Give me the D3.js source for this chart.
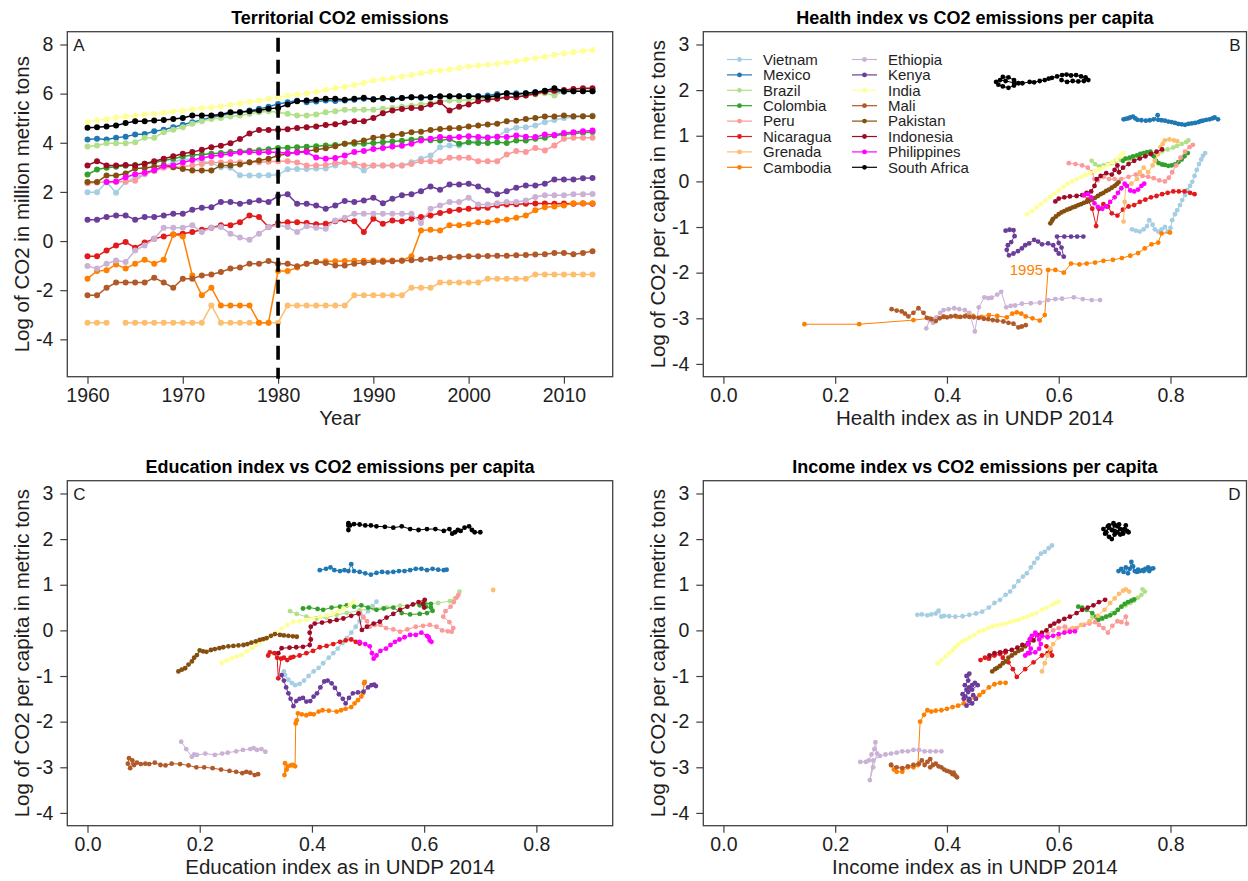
<!DOCTYPE html>
<html>
<head>
<meta charset="utf-8">
<title>CO2 emissions and human development</title>
<script src="https://cdn.jsdelivr.net/npm/d3@7/dist/d3.min.js"></script>
<style>
  html, body { margin: 0; padding: 0; background: #fff; }
  svg { display: block; }
</style>
</head>
<body>
<svg id="chart" width="1248" height="881"></svg>
<script>
// ---------- countries and colours ----------
const countries = ["Vietnam","Mexico","Brazil","Colombia","Peru","Nicaragua","Grenada","Cambodia",
                   "Ethiopia","Kenya","India","Mali","Pakistan","Indonesia","Philippines","South Africa"];
const palette = ["#a6cee3","#1f78b4","#b2df8a","#33a02c","#fb9a99","#e31a1c","#fdbf6f","#ff7f00",
                 "#cab2d6","#6a3d9a","#ffff99","#b15928","#85500f","#9e0b26","#ff00ff","#000000"];

// ---------- panel A: log of territorial CO2 (million metric tons), 1960-2013 ----------
const firstYear = 1960, lastYear = 2013;
const co2Vietnam = [1.99,1.99,2.40,1.97,2.40,2.60,2.72,2.85,3.05,3.20, 3.35,3.30,3.25,3.18,3.00,2.98,2.68,2.67,2.67,2.68,
  2.70,2.92,2.93,2.93,2.95,2.95,3.08,3.21,3.08,2.87, 3.08,3.08,3.08,3.08,3.21,3.35,3.48,3.82,3.89,3.89,
  4.02,4.09,4.23,4.25,4.50,4.61,4.63,4.70,4.84,4.93, 5.01,5.04,5.07,5.11];
const co2Mexico = [4.13,4.16,4.13,4.20,4.25,4.34,4.36,4.47,4.53,4.63, 4.73,4.84,4.93,5.04,5.11,5.18,5.24,5.31,5.38,5.47,
  5.58,5.65,5.72,5.65,5.68,5.72,5.70,5.72,5.75,5.79, 5.78,5.80,5.78,5.82,5.85,5.82,5.84,5.87,5.88,5.88,
  5.90,5.90,5.92,5.98,6.00,6.02,6.02,6.06,6.10,6.08, 6.08,6.10,6.12,6.10];
const co2Brazil = [3.85,3.89,3.98,3.98,3.98,4.02,4.20,4.20,4.43,4.53, 4.63,4.77,4.88,4.97,5.01,5.07,5.11,5.18,5.24,5.28,
  5.24,5.18,5.11,5.11,5.15,5.24,5.28,5.34,5.34,5.34, 5.34,5.38,5.42,5.47,5.51,5.56,5.61,5.69,5.72,5.72,
  5.75,5.79,5.79,5.85,5.85,5.88,5.92,5.96,6.02,5.92, 6.10,6.12,6.15,6.15];
const co2Colombia = [2.71,2.91,2.98,3.02,3.06,3.10,3.15,3.20,3.28,3.35, 3.44,3.50,3.52,3.55,3.58,3.62,3.64,3.68,3.70,3.74,
  3.79,3.80,3.82,3.84,3.86,3.89,3.91,3.96,3.96,3.96, 3.99,4.02,4.05,4.08,4.12,4.16,4.10,4.09,4.15,3.96,
  4.02,3.99,3.99,4.02,3.99,4.09,4.09,4.16,4.20,4.30, 4.34,4.38,4.41,4.44];
const co2Peru = [2.35,2.38,2.40,2.40,2.42,2.45,2.74,2.85,2.98,3.00, 3.02,3.08,3.14,3.20,3.20,3.21,3.21,3.20,3.21,3.23,
  3.25,3.25,3.20,3.08,3.08,3.10,3.18,3.21,3.14,3.08, 3.08,3.08,3.08,3.08,3.14,3.25,3.25,3.25,3.39,3.39,
  3.39,3.25,3.25,3.25,3.52,3.66,3.62,3.79,3.69,3.89, 4.16,4.20,4.20,4.20];
const co2Nicaragua = [-0.62,-0.62,-0.38,-0.18,-0.04,-0.27,-0.06,0.09,0.19,0.27, 0.30,0.37,0.46,0.54,0.64,0.64,0.77,1.04,0.98,0.57,
  0.73,0.77,0.77,0.73,0.68,0.70,0.81,0.87,0.81,0.37, 0.91,0.70,0.84,0.81,0.91,0.98,1.04,1.14,1.22,1.27,
  1.31,1.36,1.36,1.45,1.49,1.50,1.52,1.53,1.53,1.52, 1.53,1.52,1.53,1.52];
const co2Grenada = [-3.32,-3.32,-3.32,null,-3.32,-3.32,-3.32,-3.32,-3.32,-3.32, -3.32,-3.32,-3.32,-2.62,-3.32,-3.32,-3.32,-3.32,-3.32,-3.32,
  -3.32,-2.62,-2.62,-2.62,-2.62,-2.62,-2.62,-2.62,-2.21,-2.21, -2.21,-2.21,-2.21,-2.21,-1.90,-1.90,-1.90,-1.69,-1.69,-1.69,
  -1.69,-1.69,-1.53,-1.53,-1.53,-1.53,-1.53,-1.36,-1.36,-1.36, -1.36,-1.36,-1.36,-1.36];
const co2Cambodia = [-1.53,-1.22,-1.19,-0.95,-1.12,-0.92,-0.76,-0.92,-0.76,0.27, 0.19,-1.40,-2.21,-1.90,-2.62,-2.62,-2.62,-2.62,-3.32,-3.32,
  -1.22,-1.22,-1.08,-0.92,-0.85,-0.82,-0.82,-0.81,-0.80,-0.80, -0.79,-0.79,-0.79,-0.79,-0.62,0.43,0.46,0.43,0.64,0.64,
  0.68,0.77,0.77,0.84,0.88,0.95,1.04,1.25,1.38,1.41, 1.45,1.54,1.54,1.54];
const co2Ethiopia = [-1.02,-1.12,-0.92,-0.79,-0.85,-0.38,-0.18,0.09,0.54,0.54, 0.54,0.64,0.37,0.54,0.57,0.30,0.14,0.05,0.30,0.57,
  0.64,0.57,0.37,0.60,0.54,0.50,0.84,0.95,1.11,1.11, 1.11,1.11,1.11,1.11,1.11,0.73,1.31,1.45,1.59,1.59,
  1.76,1.49,1.49,1.54,1.59,1.59,1.65,1.79,1.86,1.86, 1.86,1.90,1.90,1.92];
const co2Kenya = [0.87,0.87,0.98,1.04,1.04,0.87,0.98,0.98,1.04,1.11, 1.11,1.27,1.36,1.38,1.59,1.59,1.52,1.59,1.65,1.59,
  1.83,1.90,1.52,1.52,1.45,1.31,1.45,1.63,1.59,1.65, 1.76,1.54,1.72,1.86,1.90,2.03,2.22,2.09,2.30,2.30,
  2.33,2.22,2.06,1.90,2.03,2.17,2.26,2.26,2.33,2.51, 2.51,2.51,2.56,2.57];
const co2India = [4.84,4.92,4.97,5.03,5.07,5.10,5.15,5.18,5.22,5.27, 5.31,5.36,5.41,5.44,5.49,5.55,5.61,5.67,5.72,5.79,
  5.85,5.91,5.96,6.02,6.08,6.16,6.22,6.28,6.35,6.44, 6.53,6.58,6.64,6.70,6.76,6.83,6.89,6.94,6.98,7.04,
  7.10,7.14,7.18,7.22,7.27,7.32,7.38,7.44,7.50,7.58, 7.63,7.68,7.73,7.78];
const co2Mali = [-2.21,-2.21,-1.90,-1.69,-1.69,-1.69,-1.69,-1.49,-1.69,-1.90, -1.53,-1.53,-1.40,-1.36,-1.26,-1.12,-1.08,-0.92,-0.92,-0.81,
  -0.92,-0.92,-1.03,-0.92,-0.85,-0.89,-0.99,-0.99,-0.92,-0.88, -0.85,-0.84,-0.82,-0.80,-0.78,-0.75,-0.72,-0.68,-0.66,-0.64,
  -0.62,-0.62,-0.61,-0.60,-0.60,-0.58,-0.57,-0.55,-0.54,-0.49, -0.49,-0.54,-0.49,-0.41];
const co2Pakistan = [2.40,2.40,2.67,2.67,2.75,2.95,2.97,3.02,3.08,3.00, 2.93,2.87,2.87,2.87,3.08,3.08,3.12,3.21,3.28,3.35,
  3.48,3.55,3.62,3.66,3.72,3.78,3.86,3.96,4.02,4.09, 4.20,4.25,4.30,4.36,4.43,4.45,4.52,4.56,4.59,4.60,
  4.66,4.70,4.74,4.77,4.88,4.90,4.97,5.01,5.07,5.07, 5.11,5.08,5.08,5.08];
const co2Indonesia = [3.08,3.25,3.08,3.08,3.10,3.08,3.15,3.25,3.35,3.45, 3.55,3.62,3.72,3.82,3.88,3.98,4.15,4.38,4.52,4.52,
  4.53,4.55,4.60,4.63,4.66,4.72,4.75,4.81,4.88,4.88, 5.01,5.20,5.31,5.37,5.42,5.42,5.56,5.65,5.31,5.47,
  5.56,5.69,5.75,5.79,5.85,5.85,5.92,5.99,6.08,6.12, 6.15,6.19,6.22,6.22];
const co2Philippines = [null,null,2.40,2.42,2.60,2.72,2.78,2.88,3.05,3.08, 3.20,3.30,3.38,3.45,3.50,3.55,3.60,3.62,3.60,3.62,
  3.60,3.58,3.60,3.62,3.40,3.35,3.38,3.48,3.62,3.66, 3.75,3.79,3.85,3.88,3.96,4.09,4.16,4.23,4.20,4.23,
  4.27,4.23,4.20,4.25,4.23,4.30,4.25,4.23,4.34,4.32, 4.40,4.43,4.47,4.50];
const co2SouthAfrica = [4.61,4.63,4.66,4.70,4.80,4.88,4.88,4.91,4.93,4.97, 5.01,5.11,5.11,5.11,5.15,5.24,5.24,5.28,5.31,5.38,
  5.42,5.56,5.69,5.72,5.75,5.79,5.79,5.75,5.79,5.83, 5.76,5.82,5.76,5.82,5.85,5.85,5.85,5.89,5.89,5.89,
  5.89,5.88,5.85,5.92,6.02,5.96,6.02,6.06,6.12,6.22, 6.10,6.10,6.10,6.10];
const markerYear = 1980;

// ---------- panel B: [health index, log CO2 per capita] ----------
const healthVietnam = [[0.731,-1.05],[0.738,-1.08],[0.745,-1.1],[0.752,-1.05],[0.758,-0.98],[0.762,-0.85],[0.768,-0.95],[0.772,-1.05],[0.778,-1.1],[0.784,-1.05],[0.79,-1.0],[0.795,-1.1],[0.8,-1.02],[0.803,-0.85],[0.808,-0.72],[0.812,-0.63],[0.817,-0.52],[0.821,-0.41],[0.826,-0.3],[0.83,-0.19],[0.835,-0.1],[0.839,-0.01],[0.843,0.12],[0.847,0.25],[0.851,0.38],[0.855,0.48],[0.858,0.56],[0.862,0.62]];
const healthMexico = [[0.716,1.36],[0.72,1.37],[0.724,1.38],[0.728,1.4],[0.733,1.42],[0.737,1.38],[0.741,1.35],[0.748,1.34],[0.756,1.33],[0.763,1.34],[0.77,1.36],[0.777,1.45],[0.778,1.35],[0.784,1.34],[0.79,1.33],[0.796,1.31],[0.802,1.3],[0.808,1.28],[0.814,1.26],[0.82,1.25],[0.826,1.24],[0.832,1.26],[0.838,1.27],[0.844,1.28],[0.85,1.3],[0.854,1.32],[0.858,1.33],[0.864,1.35],[0.87,1.36],[0.875,1.38],[0.879,1.4],[0.885,1.36]];
const healthBrazil = [[0.659,0.45],[0.665,0.38],[0.672,0.33],[0.68,0.35],[0.688,0.38],[0.695,0.4],[0.702,0.45],[0.71,0.48],[0.718,0.5],[0.726,0.48],[0.735,0.5],[0.745,0.55],[0.755,0.6],[0.765,0.62],[0.775,0.62],[0.785,0.66],[0.795,0.7],[0.805,0.74],[0.812,0.78],[0.82,0.82],[0.828,0.86],[0.832,0.9]];
const healthColombia = [[0.715,0.45],[0.72,0.5],[0.727,0.52],[0.733,0.55],[0.74,0.57],[0.746,0.6],[0.752,0.62],[0.758,0.64],[0.764,0.65],[0.77,0.55],[0.774,0.45],[0.779,0.4],[0.785,0.37],[0.79,0.36],[0.796,0.34],[0.802,0.35],[0.808,0.37],[0.814,0.42],[0.82,0.48],[0.825,0.55],[0.831,0.62]];
const healthPeru = [[0.618,0.4],[0.63,0.38],[0.642,0.35],[0.652,0.3],[0.66,0.2],[0.664,0.05],[0.67,0.02],[0.68,0.1],[0.69,0.05],[0.7,0.05],[0.712,0.05],[0.725,0.1],[0.738,0.15],[0.75,0.12],[0.76,0.1],[0.77,0.07],[0.78,0.02],[0.79,0.0],[0.797,0.08],[0.803,0.2],[0.81,0.35],[0.818,0.52],[0.826,0.65],[0.834,0.75],[0.84,0.8]];
const healthNicaragua = [[0.645,-0.3],[0.652,-0.4],[0.66,-0.6],[0.667,-0.98],[0.672,-0.6],[0.68,-0.5],[0.688,-0.55],[0.695,-0.7],[0.705,-0.75],[0.715,-0.62],[0.725,-0.55],[0.735,-0.52],[0.745,-0.45],[0.755,-0.4],[0.765,-0.35],[0.775,-0.32],[0.785,-0.28],[0.795,-0.25],[0.805,-0.22],[0.815,-0.22],[0.825,-0.22],[0.835,-0.25],[0.843,-0.28]];
const healthGrenada = [[0.716,-0.88],[0.718,-0.45],[0.72,-0.1],[0.73,-0.05],[0.74,0.05],[0.745,0.2],[0.752,0.3],[0.76,0.2],[0.768,0.35],[0.772,0.45],[0.778,0.6],[0.782,0.75],[0.786,0.82],[0.79,0.9],[0.798,0.92],[0.806,0.9],[0.812,0.88]];
const healthCambodia = [[0.145,-3.13],[0.243,-3.13],[0.34,-3.04],[0.369,-3.0],[0.394,-2.96],[0.419,-2.97],[0.435,-2.93],[0.447,-2.95],[0.462,-2.97],[0.475,-2.93],[0.49,-2.95],[0.507,-2.98],[0.517,-2.9],[0.525,-2.87],[0.533,-2.9],[0.541,-2.96],[0.553,-3.0],[0.566,-3.05],[0.575,-2.93],[0.581,-1.94],[0.594,-1.94],[0.609,-2.0],[0.622,-1.8],[0.637,-1.82],[0.65,-1.8],[0.665,-1.78],[0.68,-1.74],[0.697,-1.72],[0.713,-1.68],[0.728,-1.63],[0.742,-1.57],[0.754,-1.47],[0.766,-1.38],[0.778,-1.34],[0.784,-1.14],[0.799,-1.12]];
const healthEthiopia = [[0.363,-3.22],[0.369,-3.04],[0.375,-3.1],[0.381,-2.98],[0.388,-2.88],[0.394,-2.82],[0.403,-2.8],[0.413,-2.78],[0.422,-2.8],[0.432,-2.82],[0.44,-2.88],[0.45,-3.29],[0.457,-2.76],[0.467,-2.54],[0.474,-2.56],[0.48,-2.55],[0.49,-2.48],[0.497,-2.42],[0.506,-2.76],[0.514,-2.73],[0.522,-2.72],[0.534,-2.68],[0.55,-2.67],[0.566,-2.66],[0.581,-2.6],[0.594,-2.58],[0.606,-2.57],[0.627,-2.54],[0.643,-2.58],[0.659,-2.6],[0.674,-2.6]];
const healthKenya = [[0.505,-1.08],[0.512,-1.06],[0.519,-1.07],[0.521,-1.2],[0.515,-1.33],[0.509,-1.4],[0.507,-1.5],[0.511,-1.62],[0.519,-1.58],[0.527,-1.53],[0.534,-1.47],[0.54,-1.4],[0.547,-1.36],[0.556,-1.28],[0.563,-1.32],[0.57,-1.38],[0.581,-1.36],[0.59,-1.4],[0.595,-1.5],[0.6,-1.58],[0.609,-1.65],[0.605,-1.45],[0.6,-1.35],[0.597,-1.21],[0.61,-1.21],[0.622,-1.21],[0.633,-1.21],[0.644,-1.21]];
const healthIndia = [[0.543,-0.72],[0.552,-0.65],[0.56,-0.57],[0.568,-0.5],[0.576,-0.42],[0.584,-0.34],[0.592,-0.27],[0.6,-0.2],[0.608,-0.12],[0.616,-0.05],[0.624,0.0],[0.632,0.05],[0.64,0.1],[0.648,0.14],[0.656,0.18],[0.664,0.22],[0.672,0.26],[0.68,0.3],[0.688,0.36],[0.696,0.42],[0.704,0.48],[0.71,0.55],[0.716,0.62]];
const healthMali = [[0.301,-2.8],[0.31,-2.83],[0.319,-2.85],[0.325,-2.9],[0.331,-2.96],[0.34,-2.88],[0.349,-2.78],[0.358,-2.88],[0.364,-2.99],[0.372,-3.02],[0.38,-3.06],[0.387,-3.0],[0.394,-2.97],[0.4,-2.98],[0.407,-2.96],[0.415,-2.95],[0.424,-2.97],[0.432,-2.96],[0.44,-2.97],[0.448,-2.98],[0.457,-2.99],[0.466,-3.01],[0.474,-3.02],[0.482,-3.04],[0.49,-3.05],[0.501,-3.07],[0.51,-3.1],[0.519,-3.12],[0.528,-3.2],[0.534,-3.18],[0.541,-3.15]];
const healthPakistan = [[0.585,-0.92],[0.588,-0.86],[0.59,-0.82],[0.595,-0.77],[0.6,-0.72],[0.605,-0.68],[0.61,-0.65],[0.615,-0.62],[0.62,-0.6],[0.625,-0.57],[0.63,-0.55],[0.635,-0.52],[0.64,-0.5],[0.645,-0.47],[0.65,-0.45],[0.655,-0.42],[0.66,-0.4],[0.665,-0.36],[0.67,-0.32],[0.675,-0.28],[0.68,-0.25],[0.685,-0.21],[0.69,-0.18],[0.695,-0.14],[0.7,-0.1],[0.704,-0.06],[0.707,-0.02]];
const healthIndonesia = [[0.594,-0.44],[0.6,-0.38],[0.61,-0.35],[0.62,-0.33],[0.632,-0.32],[0.642,-0.3],[0.65,-0.25],[0.658,-0.22],[0.664,-0.1],[0.668,0.05],[0.675,0.12],[0.685,0.18],[0.695,0.15],[0.7,0.25],[0.705,0.35],[0.708,0.2],[0.715,0.3],[0.725,0.38],[0.735,0.45],[0.745,0.5],[0.755,0.55],[0.765,0.6],[0.775,0.65],[0.785,0.7]];
const healthPhilippines = [[0.645,-0.3],[0.652,-0.28],[0.658,-0.35],[0.664,-0.48],[0.67,-0.56],[0.678,-0.6],[0.685,-0.55],[0.692,-0.45],[0.7,-0.35],[0.706,-0.25],[0.712,-0.15],[0.718,-0.05],[0.722,-0.1],[0.728,-0.2],[0.735,-0.22],[0.742,-0.18],[0.748,-0.1],[0.753,-0.05]];
const healthSouthAfrica = [[0.488,2.18],[0.492,2.12],[0.5,2.08],[0.51,2.05],[0.52,2.1],[0.528,2.15],[0.52,2.22],[0.51,2.28],[0.5,2.29],[0.495,2.22],[0.505,2.2],[0.52,2.16],[0.535,2.15],[0.548,2.18],[0.556,2.17],[0.566,2.2],[0.575,2.22],[0.582,2.25],[0.588,2.27],[0.597,2.3],[0.606,2.33],[0.614,2.34],[0.622,2.32],[0.631,2.33],[0.64,2.3],[0.648,2.28],[0.653,2.22],[0.645,2.2],[0.635,2.19],[0.625,2.2],[0.615,2.18],[0.605,2.22]];

// ---------- panel C: [education index, log CO2 per capita] ----------
const educationVietnam = [[0.35,-0.9],[0.352,-0.98],[0.358,-1.08],[0.364,-1.15],[0.37,-1.2],[0.378,-1.17],[0.386,-1.1],[0.394,-1.0],[0.403,-0.9],[0.412,-0.82],[0.42,-0.72],[0.43,-0.6],[0.438,-0.5],[0.446,-0.4],[0.454,-0.28],[0.462,-0.17],[0.47,-0.05],[0.478,0.08],[0.485,0.2],[0.491,0.3],[0.5,0.42],[0.508,0.53],[0.515,0.63]];
const educationMexico = [[0.414,1.32],[0.425,1.35],[0.433,1.38],[0.44,1.32],[0.45,1.3],[0.458,1.32],[0.465,1.3],[0.47,1.45],[0.475,1.3],[0.485,1.28],[0.495,1.25],[0.505,1.22],[0.515,1.26],[0.525,1.28],[0.535,1.27],[0.545,1.28],[0.555,1.3],[0.565,1.3],[0.575,1.32],[0.585,1.35],[0.595,1.35],[0.605,1.32],[0.615,1.35],[0.625,1.33],[0.635,1.32],[0.64,1.33]];
const educationBrazil = [[0.361,0.42],[0.373,0.36],[0.39,0.3],[0.408,0.26],[0.426,0.28],[0.444,0.34],[0.462,0.38],[0.485,0.44],[0.509,0.48],[0.533,0.5],[0.557,0.54],[0.58,0.56],[0.604,0.58],[0.625,0.6],[0.646,0.64],[0.655,0.7],[0.663,0.85]];
const educationColombia = [[0.384,0.48],[0.395,0.5],[0.41,0.47],[0.42,0.45],[0.435,0.5],[0.45,0.52],[0.462,0.55],[0.475,0.52],[0.488,0.55],[0.5,0.5],[0.515,0.45],[0.528,0.48],[0.545,0.5],[0.56,0.38],[0.575,0.35],[0.592,0.36],[0.605,0.38],[0.615,0.43],[0.612,0.5],[0.603,0.52],[0.592,0.55],[0.6,0.6],[0.612,0.58]];
const educationPeru = [[0.486,0.37],[0.492,0.28],[0.498,0.2],[0.503,0.08],[0.512,0.12],[0.522,0.12],[0.532,0.05],[0.545,0.02],[0.557,-0.03],[0.57,0.02],[0.585,0.08],[0.598,0.1],[0.61,0.12],[0.622,0.08],[0.632,0.0],[0.642,-0.02],[0.649,-0.03],[0.652,0.05],[0.645,0.18],[0.634,0.3],[0.638,0.42],[0.647,0.52],[0.653,0.62],[0.658,0.72],[0.661,0.78]];
const educationNicaragua = [[0.322,-0.55],[0.325,-0.48],[0.333,-0.5],[0.338,-0.6],[0.34,-1.05],[0.345,-0.62],[0.35,-0.6],[0.356,-0.65],[0.362,-0.6],[0.367,-0.58],[0.378,-0.55],[0.39,-0.5],[0.402,-0.45],[0.414,-0.37],[0.426,-0.34],[0.438,-0.3],[0.45,-0.25],[0.46,-0.22],[0.47,-0.2],[0.478,-0.25],[0.485,-0.29]];
const educationGrenada = [[0.723,0.885]];
const educationCambodia = [[0.352,-2.91],[0.351,-3.17],[0.355,-3.05],[0.357,-2.98],[0.362,-2.96],[0.366,-2.95],[0.37,-2.98],[0.371,-2.04],[0.373,-1.97],[0.375,-1.82],[0.382,-1.84],[0.39,-1.86],[0.397,-1.83],[0.403,-1.84],[0.412,-1.78],[0.419,-1.75],[0.43,-1.76],[0.444,-1.78],[0.452,-1.75],[0.46,-1.72],[0.47,-1.68],[0.476,-1.6],[0.482,-1.53],[0.488,-1.45],[0.491,-1.38],[0.493,-1.16],[0.494,-1.13]];
const educationEthiopia = [[0.167,-2.44],[0.176,-2.6],[0.186,-2.77],[0.19,-2.72],[0.195,-2.73],[0.21,-2.7],[0.227,-2.73],[0.24,-2.7],[0.25,-2.68],[0.265,-2.65],[0.277,-2.62],[0.29,-2.6],[0.296,-2.58],[0.302,-2.62],[0.31,-2.6],[0.317,-2.66]];
const educationKenya = [[0.346,-0.98],[0.35,-1.1],[0.354,-1.25],[0.358,-1.38],[0.362,-1.5],[0.367,-1.66],[0.372,-1.55],[0.378,-1.5],[0.384,-1.48],[0.39,-1.56],[0.397,-1.55],[0.403,-1.45],[0.409,-1.38],[0.415,-1.25],[0.422,-1.12],[0.428,-1.1],[0.435,-1.16],[0.441,-1.26],[0.448,-1.4],[0.455,-1.5],[0.46,-1.6],[0.466,-1.48],[0.473,-1.38],[0.482,-1.36],[0.492,-1.34],[0.5,-1.25],[0.506,-1.2],[0.511,-1.19],[0.514,-1.22]];
const educationIndia = [[0.239,-0.72],[0.248,-0.66],[0.257,-0.61],[0.266,-0.57],[0.275,-0.54],[0.284,-0.46],[0.293,-0.39],[0.3,-0.32],[0.307,-0.25],[0.316,-0.2],[0.325,-0.14],[0.335,-0.05],[0.346,0.04],[0.356,0.12],[0.367,0.19],[0.378,0.2],[0.39,0.23],[0.402,0.27],[0.414,0.3],[0.426,0.33],[0.438,0.37],[0.447,0.42],[0.456,0.48],[0.468,0.56],[0.474,0.63]];
const educationMali = [[0.074,-2.8],[0.072,-2.92],[0.076,-3.02],[0.08,-2.85],[0.083,-2.95],[0.088,-2.9],[0.095,-2.93],[0.103,-2.92],[0.11,-2.93],[0.12,-2.9],[0.13,-2.95],[0.139,-2.96],[0.15,-2.92],[0.165,-2.93],[0.18,-2.96],[0.194,-3.0],[0.208,-3.0],[0.223,-3.02],[0.238,-3.05],[0.253,-3.08],[0.265,-3.1],[0.276,-3.13],[0.283,-3.1],[0.29,-3.12],[0.298,-3.17],[0.304,-3.15]];
const educationPakistan = [[0.162,-0.9],[0.168,-0.86],[0.174,-0.83],[0.18,-0.75],[0.186,-0.68],[0.19,-0.6],[0.195,-0.54],[0.2,-0.44],[0.206,-0.46],[0.212,-0.47],[0.22,-0.43],[0.227,-0.41],[0.235,-0.39],[0.242,-0.37],[0.251,-0.35],[0.26,-0.34],[0.269,-0.33],[0.278,-0.32],[0.285,-0.3],[0.292,-0.27],[0.3,-0.24],[0.307,-0.21],[0.313,-0.19],[0.319,-0.17],[0.327,-0.12],[0.334,-0.08],[0.343,-0.1],[0.35,-0.11],[0.358,-0.12],[0.366,-0.13],[0.373,-0.14]];
const educationIndonesia = [[0.34,-0.5],[0.346,-0.39],[0.36,-0.38],[0.372,-0.37],[0.384,-0.36],[0.396,-0.32],[0.398,-0.2],[0.396,-0.05],[0.398,0.08],[0.405,0.15],[0.418,0.17],[0.432,0.2],[0.444,0.23],[0.456,0.26],[0.47,0.32],[0.483,0.37],[0.489,0.01],[0.498,0.08],[0.51,0.15],[0.521,0.19],[0.533,0.28],[0.545,0.36],[0.557,0.45],[0.57,0.52],[0.58,0.57],[0.59,0.62],[0.601,0.67],[0.598,0.58],[0.6,0.5]];
const educationPhilippines = [[0.485,-0.25],[0.495,-0.3],[0.503,-0.35],[0.507,-0.5],[0.51,-0.62],[0.515,-0.55],[0.522,-0.45],[0.532,-0.4],[0.54,-0.32],[0.548,-0.25],[0.556,-0.2],[0.565,-0.15],[0.575,-0.1],[0.585,-0.1],[0.595,-0.05],[0.605,-0.12],[0.61,-0.22],[0.613,-0.25],[0.608,-0.15]];
const educationSouthAfrica = [[0.465,2.3],[0.465,2.2],[0.465,2.35],[0.468,2.3],[0.475,2.33],[0.485,2.32],[0.495,2.3],[0.505,2.3],[0.515,2.28],[0.53,2.27],[0.545,2.25],[0.56,2.28],[0.575,2.22],[0.59,2.2],[0.605,2.22],[0.62,2.22],[0.635,2.18],[0.645,2.22],[0.65,2.12],[0.655,2.15],[0.66,2.2],[0.665,2.18],[0.672,2.25],[0.68,2.28],[0.685,2.2],[0.69,2.15],[0.7,2.15]];

// ---------- panel D: [income index, log CO2 per capita] ----------
const incomeVietnam = [[0.347,0.34],[0.355,0.35],[0.365,0.33],[0.372,0.35],[0.38,0.37],[0.385,0.43],[0.39,0.3],[0.395,0.32],[0.404,0.31],[0.415,0.3],[0.428,0.31],[0.44,0.34],[0.452,0.37],[0.463,0.41],[0.475,0.5],[0.485,0.6],[0.495,0.67],[0.505,0.78],[0.513,0.85],[0.52,0.96],[0.528,1.08],[0.536,1.18],[0.543,1.25],[0.55,1.38],[0.556,1.48],[0.562,1.58],[0.568,1.68],[0.575,1.72],[0.582,1.8],[0.588,1.86]];
const incomeMexico = [[0.707,1.3],[0.712,1.35],[0.716,1.28],[0.72,1.38],[0.724,1.25],[0.727,1.35],[0.73,1.5],[0.733,1.4],[0.736,1.3],[0.74,1.28],[0.745,1.3],[0.75,1.32],[0.755,1.35],[0.76,1.38],[0.765,1.35],[0.769,1.36],[0.762,1.3],[0.752,1.3],[0.742,1.33]];
const incomeBrazil = [[0.66,0.3],[0.668,0.26],[0.677,0.28],[0.685,0.3],[0.695,0.38],[0.705,0.45],[0.713,0.52],[0.72,0.55],[0.728,0.6],[0.735,0.65],[0.742,0.72],[0.748,0.78],[0.754,0.85],[0.75,0.9]];
const incomeColombia = [[0.635,0.52],[0.642,0.5],[0.65,0.45],[0.66,0.38],[0.667,0.3],[0.671,0.23],[0.678,0.26],[0.685,0.3],[0.692,0.33],[0.7,0.38],[0.706,0.45],[0.712,0.52],[0.718,0.58],[0.724,0.62],[0.73,0.65],[0.735,0.68]];
const incomePeru = [[0.57,-0.15],[0.58,-0.08],[0.59,0.0],[0.6,0.05],[0.611,0.08],[0.622,0.02],[0.632,0.05],[0.645,0.12],[0.655,0.15],[0.665,0.18],[0.672,0.12],[0.68,0.05],[0.688,-0.05],[0.696,0.1],[0.705,0.2],[0.712,0.18],[0.72,0.3],[0.722,0.15]];
const incomeNicaragua = [[0.46,-0.65],[0.468,-0.6],[0.475,-0.62],[0.485,-0.55],[0.495,-0.52],[0.505,-0.48],[0.5,-0.6],[0.51,-0.7],[0.518,-0.85],[0.525,-1.02],[0.54,-0.85],[0.555,-0.7],[0.57,-0.55],[0.58,-0.5],[0.588,-0.55],[0.585,-0.45],[0.578,-0.35]];
const incomeGrenada = [[0.57,-0.9],[0.575,-0.72],[0.58,-0.55],[0.585,-0.4],[0.59,-0.3],[0.6,-0.15],[0.612,0.0],[0.625,0.05],[0.64,0.12],[0.655,0.2],[0.67,0.32],[0.682,0.45],[0.692,0.6],[0.7,0.7],[0.708,0.8],[0.715,0.87],[0.72,0.9],[0.726,0.85]];
const incomeCambodia = [[0.3,-2.95],[0.305,-3.05],[0.31,-3.1],[0.32,-3.1],[0.33,-3.0],[0.34,-3.0],[0.348,-2.95],[0.352,-2.0],[0.359,-1.85],[0.365,-1.75],[0.372,-1.78],[0.38,-1.76],[0.39,-1.75],[0.4,-1.72],[0.41,-1.68],[0.42,-1.65],[0.43,-1.6],[0.44,-1.53],[0.45,-1.48],[0.458,-1.42],[0.465,-1.35],[0.475,-1.25],[0.485,-1.18],[0.495,-1.15],[0.505,-1.15]];
const incomeEthiopia = [[0.245,-2.88],[0.255,-2.88],[0.26,-2.85],[0.265,-2.72],[0.27,-2.6],[0.272,-2.45],[0.275,-2.7],[0.268,-3.0],[0.262,-3.28],[0.268,-2.85],[0.28,-2.75],[0.29,-2.72],[0.3,-2.7],[0.31,-2.68],[0.32,-2.65],[0.33,-2.65],[0.34,-2.62],[0.35,-2.62],[0.36,-2.65],[0.37,-2.65],[0.38,-2.65],[0.39,-2.65]];
const incomeKenya = [[0.435,-1.0],[0.44,-0.95],[0.438,-1.1],[0.432,-1.2],[0.44,-1.25],[0.445,-1.2],[0.45,-1.15],[0.455,-1.2],[0.445,-1.3],[0.438,-1.35],[0.433,-1.45],[0.44,-1.5],[0.447,-1.42],[0.452,-1.5],[0.445,-1.6],[0.435,-1.65],[0.44,-1.55],[0.43,-1.5],[0.428,-1.4],[0.435,-1.3]];
const incomeIndia = [[0.383,-0.72],[0.39,-0.65],[0.397,-0.57],[0.404,-0.5],[0.41,-0.44],[0.415,-0.37],[0.42,-0.3],[0.427,-0.25],[0.433,-0.21],[0.441,-0.15],[0.449,-0.1],[0.457,-0.03],[0.465,0.0],[0.473,0.05],[0.481,0.08],[0.489,0.11],[0.497,0.13],[0.505,0.15],[0.513,0.18],[0.521,0.21],[0.528,0.23],[0.536,0.27],[0.544,0.3],[0.552,0.34],[0.56,0.38],[0.57,0.45],[0.578,0.5],[0.588,0.56],[0.594,0.6],[0.6,0.63]];
const incomeMali = [[0.3,-2.95],[0.31,-3.0],[0.32,-3.02],[0.33,-2.98],[0.34,-2.95],[0.35,-2.92],[0.355,-2.85],[0.36,-2.95],[0.365,-2.88],[0.37,-2.82],[0.375,-2.95],[0.37,-3.0],[0.38,-2.92],[0.385,-2.98],[0.39,-3.0],[0.395,-3.05],[0.4,-3.08],[0.405,-3.1],[0.41,-3.15],[0.415,-3.18],[0.418,-3.22],[0.412,-3.12]];
const incomePakistan = [[0.481,-0.9],[0.486,-0.85],[0.49,-0.82],[0.495,-0.78],[0.5,-0.72],[0.505,-0.68],[0.51,-0.6],[0.516,-0.55],[0.522,-0.5],[0.528,-0.45],[0.534,-0.42],[0.54,-0.35],[0.546,-0.3],[0.552,-0.21]];
const incomeIndonesia = [[0.476,-0.55],[0.485,-0.5],[0.495,-0.48],[0.505,-0.45],[0.516,-0.43],[0.526,-0.38],[0.535,-0.32],[0.545,-0.28],[0.55,-0.18],[0.555,-0.22],[0.562,-0.1],[0.57,-0.05],[0.578,0.0],[0.585,0.1],[0.592,0.15],[0.6,0.2],[0.61,0.25],[0.62,0.3],[0.632,0.38],[0.642,0.45],[0.652,0.5],[0.662,0.55],[0.672,0.62],[0.683,0.67]];
const incomePhilippines = [[0.558,-0.05],[0.552,-0.12],[0.548,-0.2],[0.545,-0.3],[0.55,-0.4],[0.545,-0.5],[0.54,-0.55],[0.548,-0.5],[0.558,-0.48],[0.565,-0.4],[0.568,-0.3],[0.565,-0.2],[0.56,-0.1],[0.57,-0.12],[0.58,-0.15],[0.59,-0.12],[0.6,-0.08],[0.61,-0.05],[0.62,-0.03],[0.629,-0.02]];
const incomeSouthAfrica = [[0.69,2.25],[0.685,2.15],[0.69,2.05],[0.695,2.0],[0.7,2.1],[0.695,2.2],[0.7,2.3],[0.705,2.28],[0.71,2.22],[0.705,2.15],[0.71,2.1],[0.715,2.2],[0.72,2.3],[0.718,2.22],[0.722,2.18],[0.725,2.15],[0.715,2.12],[0.7,2.18],[0.688,2.28],[0.68,2.22],[0.683,2.12],[0.69,2.3],[0.698,2.35],[0.708,2.32]];

// ---------- tick values ----------
const yearTicks = [1960, 1970, 1980, 1990, 2000, 2010];
const totalTicks = [-4, -2, 0, 2, 4, 6, 8];
const indexTicks = [0, 0.2, 0.4, 0.6, 0.8];
const perCapitaTicks = [-4, -3, -2, -1, 0, 1, 2, 3];

// ---------- assemble series table ----------
const years = d3.range(firstYear, lastYear + 1);
const totals = [co2Vietnam, co2Mexico, co2Brazil, co2Colombia, co2Peru, co2Nicaragua, co2Grenada, co2Cambodia,
  co2Ethiopia, co2Kenya, co2India, co2Mali, co2Pakistan, co2Indonesia, co2Philippines, co2SouthAfrica];
const health = [healthVietnam, healthMexico, healthBrazil, healthColombia, healthPeru, healthNicaragua, healthGrenada, healthCambodia,
  healthEthiopia, healthKenya, healthIndia, healthMali, healthPakistan, healthIndonesia, healthPhilippines, healthSouthAfrica];
const education = [educationVietnam, educationMexico, educationBrazil, educationColombia, educationPeru, educationNicaragua, educationGrenada, educationCambodia,
  educationEthiopia, educationKenya, educationIndia, educationMali, educationPakistan, educationIndonesia, educationPhilippines, educationSouthAfrica];
const income = [incomeVietnam, incomeMexico, incomeBrazil, incomeColombia, incomePeru, incomeNicaragua, incomeGrenada, incomeCambodia,
  incomeEthiopia, incomeKenya, incomeIndia, incomeMali, incomePakistan, incomeIndonesia, incomePhilippines, incomeSouthAfrica];

const FONT = '"Liberation Sans", Arial, Helvetica, sans-serif';
const INK = "#1e1e1e";
const FRAME = "#404040";
const svg = d3.select("#chart");

// Draws frame, axes and titles for one panel and returns its scales.
function makePanel(o) {
  const g = svg.append("g");
  const x = d3.scaleLinear().domain(o.xDomain).range([o.left, o.right]);
  const y = d3.scaleLinear().domain(o.yDomain).range([o.bottom, o.top]);

  const ax = g.append("g").attr("transform", `translate(0,${o.bottom})`)
    .call(d3.axisBottom(x).tickValues(o.xTicks).tickFormat(o.xFormat).tickSize(7).tickPadding(4));
  const ay = g.append("g").attr("transform", `translate(${o.left},0)`)
    .call(d3.axisLeft(y).tickValues(o.yTicks).tickFormat(d => String(d)).tickSize(7).tickPadding(7));
  for (const a of [ax, ay]) {
    a.attr("font-family", FONT).attr("font-size", 19.5);
    a.select(".domain").remove();
    a.selectAll(".tick line").attr("stroke", FRAME).attr("stroke-width", 1.2);
    a.selectAll(".tick text").attr("fill", INK);
  }

  g.append("rect").attr("x", o.left).attr("y", o.top)
    .attr("width", o.right - o.left).attr("height", o.bottom - o.top)
    .attr("fill", "none").attr("stroke", FRAME).attr("stroke-width", 1.3);

  g.append("text").attr("x", (o.left + o.right) / 2).attr("y", o.top - 8)
    .attr("text-anchor", "middle").attr("font-family", FONT).attr("font-weight", "bold")
    .attr("font-size", 18).attr("fill", "#000").text(o.title);

  g.append("text").attr("x", (o.left + o.right) / 2).attr("y", o.bottom + 48.5)
    .attr("text-anchor", "middle").attr("font-family", FONT).attr("font-size", 20.5)
    .attr("fill", INK).text(o.xLabel);

  g.append("text")
    .attr("transform", `translate(${o.left - 45},${(o.top + o.bottom) / 2}) rotate(-90)`)
    .attr("text-anchor", "middle").attr("dy", "0.35em").attr("font-family", FONT)
    .attr("font-size", 20.5).attr("fill", INK).text(o.yLabel);

  const right = o.letterSide === "right";
  g.append("text").attr("x", right ? o.right - 6 : o.left + 6).attr("y", o.top + 19)
    .attr("text-anchor", right ? "end" : "start").attr("font-family", FONT)
    .attr("font-size", 17).attr("fill", INK).text(o.letter);

  const layer = g.append("g");
  return { g: layer, x, y };
}

// One country's path: thin line joining the yearly points, dots on top.
function drawTrack(p, pts, color, r, lw) {
  const line = d3.line().defined(d => d[1] != null).x(d => p.x(d[0])).y(d => p.y(d[1]));
  const s = p.g.append("g");
  s.append("path").datum(pts).attr("fill", "none").attr("stroke", color)
    .attr("stroke-width", lw).attr("stroke-linejoin", "round").attr("d", line);
  s.selectAll("circle").data(pts.filter(d => d[1] != null)).join("circle")
    .attr("cx", d => p.x(d[0])).attr("cy", d => p.y(d[1])).attr("r", r).attr("fill", color);
}

const rowA = { top: 31.7, bottom: 376.7 };
const rowC = { top: 480.7, bottom: 825.7 };
const colL = { left: 67.3, right: 612.7 };
const colR = { left: 703.3, right: 1246.5 };
const yearDomain = [1957.88, 2015.12];
const totalDomain = [-5.52, 8.52];
const indexDomain = [-0.036, 0.936];
const perCapitaDomain = [-4.28, 3.28];
const perCapitaLabel = "Log of CO2 per capita in metric tons";

// ---------- A ----------
const pA = makePanel({ ...rowA, ...colL, xDomain: yearDomain, yDomain: totalDomain,
  xTicks: yearTicks, yTicks: totalTicks, xFormat: d => String(d),
  title: "Territorial CO2 emissions", xLabel: "Year",
  yLabel: "Log of CO2 in million metric tons", letter: "A", letterSide: "left" });
totals.forEach((vals, i) => {
  drawTrack(pA, years.map((yr, k) => [yr, vals[k]]), palette[i], 3, 1.5);
});
pA.g.append("line")
  .attr("x1", pA.x(markerYear)).attr("x2", pA.x(markerYear))
  .attr("y1", rowA.top + 6).attr("y2", rowA.bottom + 2)
  .attr("stroke", "#000").attr("stroke-width", 3.6).attr("stroke-dasharray", "14,8");

// ---------- B, C, D ----------
const scatterPanels = [
  { data: health, row: rowA, col: colR, title: "Health index vs CO2 emissions per capita",
    xLabel: "Health index as in UNDP 2014", letter: "B", side: "right" },
  { data: education, row: rowC, col: colL, title: "Education index vs CO2 emissions per capita",
    xLabel: "Education index as in UNDP 2014", letter: "C", side: "left" },
  { data: income, row: rowC, col: colR, title: "Income index vs CO2 emissions per capita",
    xLabel: "Income index as in UNDP 2014", letter: "D", side: "right" }
];
const panels = scatterPanels.map(sp => {
  const p = makePanel({ ...sp.row, ...sp.col, xDomain: indexDomain, yDomain: perCapitaDomain,
    xTicks: indexTicks, yTicks: perCapitaTicks, xFormat: d3.format(".1f"),
    title: sp.title, xLabel: sp.xLabel, yLabel: perCapitaLabel,
    letter: sp.letter, letterSide: sp.side });
  sp.data.forEach((pts, i) => drawTrack(p, pts, palette[i], 2.4, 1));
  return p;
});

// Year label at Cambodia's jump in the health panel
const pB = panels[0];
const jumpIdx = d3.maxIndex(healthCambodia.slice(1), (d, k) => d[1] - healthCambodia[k][1]) + 1;
const jumpPt = healthCambodia[jumpIdx];
pB.g.append("text").attr("x", pB.x(jumpPt[0]) - 5).attr("y", pB.y(jumpPt[1]))
  .attr("dy", "0.35em").attr("text-anchor", "end").attr("font-family", FONT)
  .attr("font-size", 15).attr("fill", palette[7]).text("1995");

// Legend (two columns of eight)
const legend = pB.g.append("g").attr("font-family", FONT).attr("font-size", 15);
countries.forEach((name, i) => {
  const col = Math.floor(i / 8), row = i % 8;
  const x0 = 727 + col * 125, yy = 59.5 + row * 15.4;
  legend.append("line").attr("x1", x0).attr("x2", x0 + 25).attr("y1", yy).attr("y2", yy)
    .attr("stroke", palette[i]).attr("stroke-width", 1.2);
  legend.append("circle").attr("cx", x0 + 12.5).attr("cy", yy).attr("r", 2.4).attr("fill", palette[i]);
  legend.append("text").attr("x", x0 + 36).attr("y", yy).attr("dy", "0.35em")
    .attr("fill", INK).text(name);
});
</script>
</body>
</html>
